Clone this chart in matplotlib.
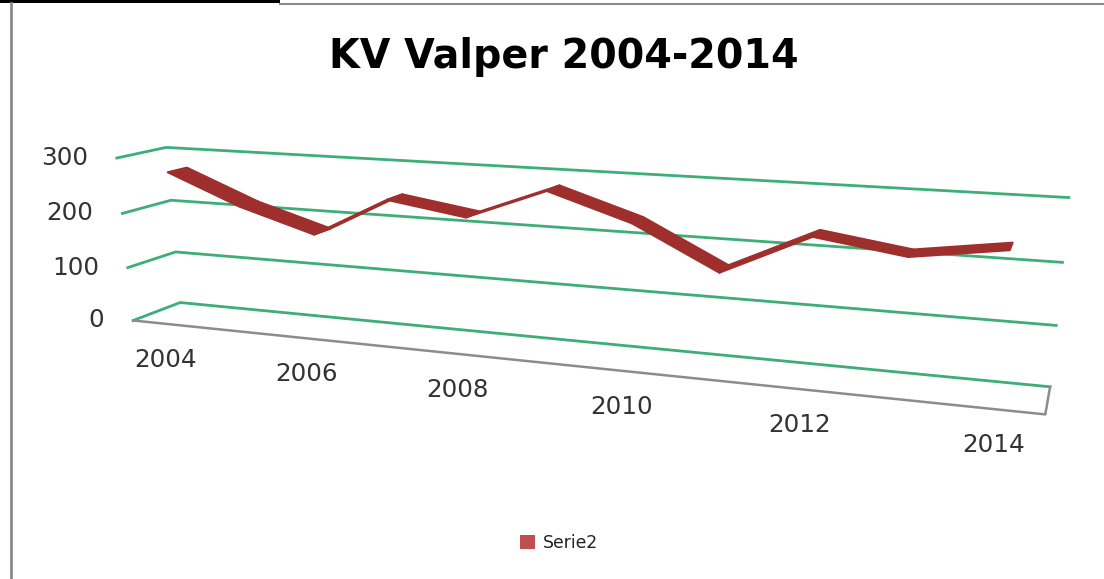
import numpy as np
import matplotlib
matplotlib.use('Agg')
import matplotlib.pyplot as plt
from mpl_toolkits.mplot3d.art3d import Poly3DCollection
from matplotlib.patches import Patch, Rectangle
from matplotlib.lines import Line2D

# ---------------- data ----------------
years = [2004, 2005, 2006, 2007, 2008, 2009, 2010, 2011, 2012, 2013, 2014]
serie2 = [272, 218, 178, 248, 227, 280, 236, 166, 234, 213, 234]
year_labels = [2004, 2006, 2008, 2010, 2012, 2014]
value_ticks = [0, 100, 200, 300]
series_name = 'Serie2'
title = 'KV Valper 2004-2014'

# ---------------- figure / 3D axes ----------------
W, H = 1104, 579
S = 1100.0
fig = plt.figure(figsize=(W / 100, H / 100), dpi=100)
fig.patch.set_facecolor('white')


def axes_rect(c):
    return [(c[0] - S / 2) / W, (H - c[1] - S / 2) / H, S / W, S / H]


ax = fig.add_axes(axes_rect((583.77, 394.9)), projection='3d')
ax.set_axis_off()
ax.set_facecolor('none')
ax.set_box_aspect((1.8, 0.4, 0.6))
ax.computed_zorder = False
ax.view_init(elev=17.24, azim=-70.36, roll=0)
ax.set_proj_type('persp', focal_length=float(np.exp(-1.435)))
Lx, Ly, Lz = np.exp([2.526, 1.04, 6.418])
cx, cy, cz = 5.404, 0.8933, -62.49
ax.set_xlim(cx - Lx / 2, cx + Lx / 2)
ax.set_ylim(cy - Ly / 2, cy + Ly / 2)
ax.set_zlim(cz - Lz / 2, cz + Lz / 2)

n = len(years)
xpos = np.arange(n)
xlo, xhi = -0.5, n - 0.5
yf, yb = 0.0, 1.0

# gridlines on side and back walls
green = '#3DAE78'
for v in value_ticks:
    ax.plot([xlo, xlo, xhi], [yf, yb, yb], [v, v, v], color=green, lw=2, zorder=1)
# floor front and right edges
ax.plot([xlo, xhi, xhi], [yf, yf, yb], [0, 0, 0], color='#8C8C8C', lw=1.8, zorder=1)

# 3D ribbon line
vals = np.array(serie2, float)
y0, y1 = 0.3, 0.7
polys = [[(xpos[i], y0, vals[i]), (xpos[i + 1], y0, vals[i + 1]),
          (xpos[i + 1], y1, vals[i + 1]), (xpos[i], y1, vals[i])] for i in range(n - 1)]
ribbon = Poly3DCollection(polys, facecolor='#9E2F2C', edgecolor='#9E2F2C', linewidth=1.5, zorder=3)
ax.add_collection3d(ribbon)

# project 3D anchor points through the axes' own projection for the labels
fig.canvas.draw()
M = ax.get_proj()


def to_fig(x, y, z):
    v = M @ np.array([x, y, z, 1.0])
    px, py = ax.transData.transform((v[0] / v[3], v[1] / v[3]))
    return px, py


# value labels
for v in value_ticks:
    px, py = to_fig(xlo, yf, v)
    fig.text((px - 29) / W, py / H, str(v), ha='right', va='center', fontsize=17.7,
             color='#333333')
# year labels
for yr in year_labels:
    px, py = to_fig(xpos[years.index(yr)], yf, 0)
    fig.text((px - 1) / W, (py - 36) / H, str(yr), ha='center', va='center', fontsize=17.7,
             color='#333333')

# title
fig.text(563.4 / W, 1 - 68.3 / H, title, ha='center', va='baseline',
         fontsize=28.5, fontweight='bold', color='black')

# legend
fig.legend(handles=[Patch(facecolor='#C0504D', edgecolor='none', label=series_name)],
           loc='center', bbox_to_anchor=(559 / W, 1 - 543 / H), frameon=False,
           fontsize=12.4, handlelength=0.87, handleheight=0.87, handletextpad=0.47,
           borderpad=0, labelcolor='#222222')

# window frame decorations
fig.add_artist(Rectangle((0, 1 - 3.3 / H), 280 / W, 3.3 / H, transform=fig.transFigure,
                         facecolor='black', edgecolor='none'))
fig.add_artist(Line2D([280 / W, 1], [1 - 3.6 / H, 1 - 3.6 / H], transform=fig.transFigure,
                      color='#8A8A8A', lw=1.5))
fig.add_artist(Line2D([10.6 / W, 10.6 / W], [0, 1 - 3.3 / H], transform=fig.transFigure,
                      color='#8A8A8A', lw=2))

fig.savefig('out.png', dpi=100)
